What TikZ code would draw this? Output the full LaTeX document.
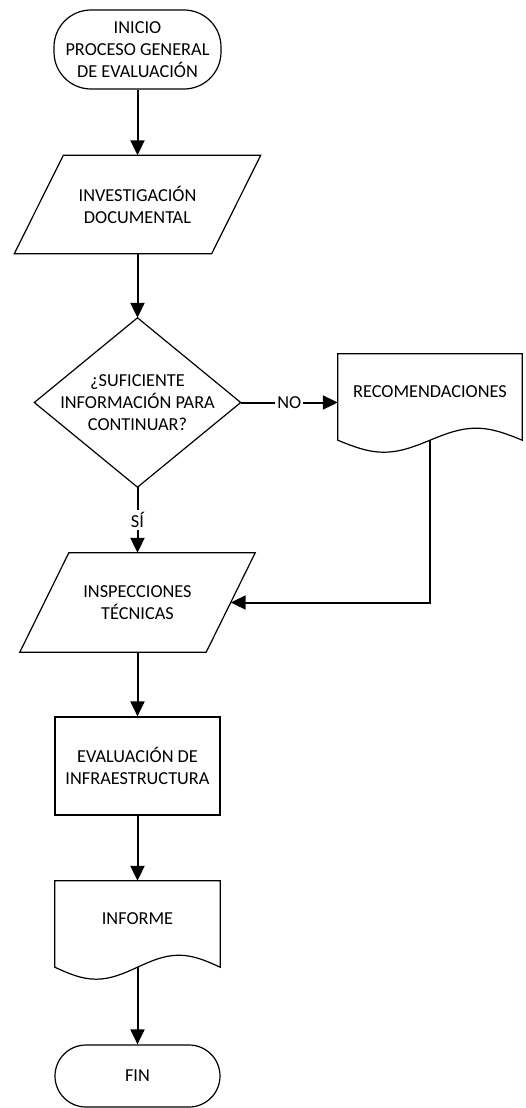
\documentclass[tikz,border=0pt]{standalone}
\usepackage{fontspec}
\setmainfont{Carlito}
\usetikzlibrary{calc}
\usetikzlibrary{positioning}
\usetikzlibrary{arrows.meta}

\begin{document}
\begin{tikzpicture}[x=1pt, y=-1pt,
    flowtext/.style={font=\fontsize{18.3}{22}\selectfont, align=center, inner sep=0pt},
    outline/.style={line width=1.2pt},
    terminal/.style={flowtext, draw, outline},
    flowline/.style={line width=2pt, -{Triangle[length=15pt, width=14pt]}},
    flowlabel/.style={flowtext, fill=white, inner sep=2pt}
]
    \useasboundingbox (0,0) rectangle (526,1108);

    % Constants
    \pgfmathsetmacro{\xmain}{137.5}
    \pgfmathsetmacro{\slant}{49}

    % Nodes (text boxes)
    \node [terminal, minimum width=167pt, minimum height=79pt, rounded corners=37pt] (inicio) at (\xmain, 49.5) {INICIO\\PROCESO GENERAL\\DE EVALUACIÓN};
    \node [flowtext, minimum width=246pt, minimum height=98pt] (investigacion) at (\xmain, 204.5) {INVESTIGACIÓN\\DOCUMENTAL};
    \node [flowtext, minimum width=206pt, minimum height=169pt] (decision) at (\xmain, 402.5) {¿SUFICIENTE\\INFORMACIÓN PARA\\CONTINUAR?};
    \node [flowtext, minimum width=184pt, minimum height=76pt] (recomend) at (430, 392) {RECOMENDACIONES};
    \node [flowtext, minimum width=235pt, minimum height=99pt] (inspecciones) at (\xmain, 602.5) {INSPECCIONES\\TÉCNICAS};
    \node [flowtext, draw, outline, minimum width=165pt, minimum height=98pt] (evaluacion) at (\xmain, 766) {EVALUACIÓN DE\\INFRAESTRUCTURA};
    \node [flowtext, minimum width=165pt, minimum height=76pt] (informe) at (\xmain, 919) {INFORME};
    \node [terminal, minimum width=165pt, minimum height=62pt, rounded corners=31pt] (fin) at (\xmain, 1076) {FIN};

    % Parallelograms
    \draw [outline] ($(investigacion.north west)+(\slant,0)$) -- (investigacion.north east) -- ($(investigacion.south east)+(-\slant,0)$) -- (investigacion.south west) -- cycle;
    \draw [outline] ($(inspecciones.north west)+(\slant,0)$) -- (inspecciones.north east) -- ($(inspecciones.south east)+(-\slant,0)$) -- (inspecciones.south west) -- cycle;

    % Decision
    \draw [outline] (decision.north) -- (decision.east) -- (decision.south) -- (decision.west) -- cycle;

    % Documents (wavy bottom)
    \draw [outline] ($(recomend.south west)+(0,10)$) sin ($(recomend.south west)!0.25!(recomend.south east)+(0,22)$) cos ($(recomend.south)+(0,10)$) sin ($(recomend.south west)!0.75!(recomend.south east)+(0,-2)$) cos ($(recomend.south east)+(0,10)$) -- (recomend.north east) -- (recomend.north west) -- cycle;
    \draw [outline] ($(informe.south west)+(0,10)$) sin ($(informe.south west)!0.25!(informe.south east)+(0,22)$) cos ($(informe.south)+(0,10)$) sin ($(informe.south west)!0.75!(informe.south east)+(0,-2)$) cos ($(informe.south east)+(0,10)$) -- (informe.north east) -- (informe.north west) -- cycle;

    % Points for the connectors
    \coordinate (recomend-foot) at ($(recomend.south)+(0,10)$);
    \coordinate (informe-foot) at ($(informe.south)+(0,10)$);
    \coordinate (inspecciones-side) at ($(inspecciones.east)+(-0.5*\slant,0)$);

    % Connectors
    \draw [flowline] (inicio.south) -- (investigacion.north);
    \draw [flowline] (investigacion.south) -- (decision.north);
    \draw [flowline] (decision.east) -- node [flowlabel] {NO} (decision.east -| recomend.west);
    \draw [flowline] (decision.south) -- node [flowlabel] {SÍ} (inspecciones.north);
    \draw [flowline] (recomend-foot) |- (inspecciones-side);
    \draw [flowline] (inspecciones.south) -- (evaluacion.north);
    \draw [flowline] (evaluacion.south) -- (informe.north);
    \draw [flowline] (informe-foot) -- (fin.north);

\end{tikzpicture}
\end{document}
